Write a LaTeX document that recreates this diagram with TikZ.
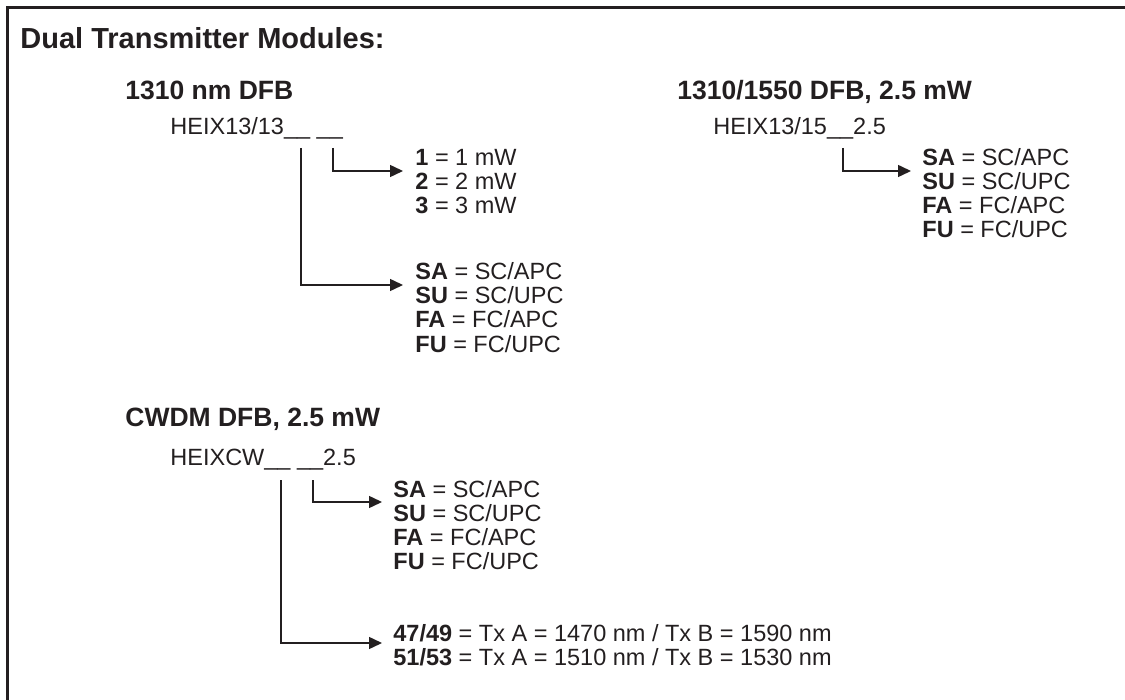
\documentclass[tikz,border=0pt]{standalone}
\usepackage{fontspec}
\setmainfont{Liberation Sans}
\usetikzlibrary{arrows.meta}
\definecolor{HeixInk}{HTML}{231F20}

\begin{document}
\begin{tikzpicture}[x=0.5pt,y=-0.5pt,
    txt/.style={anchor=base west,inner sep=0pt,text=HeixInk,
      font=\fontsize{11.75}{14}\selectfont},
    head/.style={txt,font=\bfseries\fontsize{13.25}{16}\selectfont},
    pick/.style={HeixInk,line width=0.75pt,
      -{Triangle[length=6.5pt,width=6pt]}}]
  \clip (0,0) rectangle (1125,700);
  \draw[HeixInk,line width=1.5pt] (7,720) |- (1140,8);

  \node[txt,font=\bfseries\fontsize{14.5}{17}\selectfont] (title)
    at (20,49) {Dual Transmitter Modules:};

  \node[head] (sub13) at (125,100) {1310 nm DFB};
  \node[txt] (pn13) at (170,135) {HEIX13/13\_\_ \_\_};
  \coordinate (pn13a) at (301,148);
  \coordinate (pn13b) at (333,148);
  \node[txt] (pw1) at (415,166) {\textbf{1} = 1 mW};
  \node[txt] (pw2) at (415,190) {\textbf{2} = 2 mW};
  \node[txt] (pw3) at (415,214) {\textbf{3} = 3 mW};
  \node[txt] (ca1) at (415,280) {\textbf{SA} = SC/APC};
  \node[txt] (ca2) at (415,304) {\textbf{SU} = SC/UPC};
  \node[txt] (ca3) at (415,328) {\textbf{FA} = FC/APC};
  \node[txt] (ca4) at (415,352) {\textbf{FU} = FC/UPC};
  \draw[pick] (pn13b) |- ([shift={(-12,5)}]pw1.base west);
  \draw[pick] (pn13a) |- ([shift={(-12,5)}]ca1.base west);

  \node[head] (sub15) at (677,100) {1310/1550 DFB, 2.5 mW};
  \node[txt] (pn15) at (713,135) {HEIX13/15\_\_2.5};
  \coordinate (pn15a) at (843,148);
  \node[txt] (cb1) at (922,166) {\textbf{SA} = SC/APC};
  \node[txt] (cb2) at (922,190) {\textbf{SU} = SC/UPC};
  \node[txt] (cb3) at (922,214) {\textbf{FA} = FC/APC};
  \node[txt] (cb4) at (922,238) {\textbf{FU} = FC/UPC};
  \draw[pick] (pn15a) |- ([shift={(-11,5)}]cb1.base west);

  \node[head] (subcw) at (125,426) {CWDM DFB, 2.5 mW};
  \node[txt] (pncw) at (170,466) {HEIXCW\_\_ \_\_2.5};
  \coordinate (pncwa) at (281,480);
  \coordinate (pncwb) at (313,480);
  \node[txt] (cc1) at (393,497) {\textbf{SA} = SC/APC};
  \node[txt] (cc2) at (393,521) {\textbf{SU} = SC/UPC};
  \node[txt] (cc3) at (393,545) {\textbf{FA} = FC/APC};
  \node[txt] (cc4) at (393,569) {\textbf{FU} = FC/UPC};
  \node[txt] (wl1) at (393,641) {\textbf{47/49} = Tx A = 1470 nm / Tx B = 1590 nm};
  \node[txt] (wl2) at (393,665) {\textbf{51/53} = Tx A = 1510 nm / Tx B = 1530 nm};
  \draw[pick] (pncwb) |- ([shift={(-11,5)}]cc1.base west);
  \draw[pick] (pncwa) |- ([shift={(-11,2)}]wl1.base west);
\end{tikzpicture}
\end{document}
